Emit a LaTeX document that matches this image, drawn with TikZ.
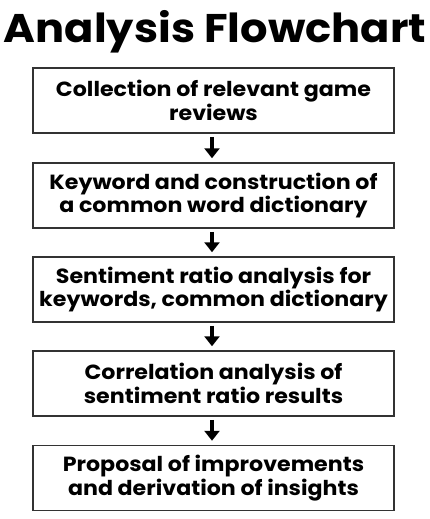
\documentclass[tikz,border=0pt]{standalone}
\usepackage{fontspec}
\setmainfont{Poppins}
\newfontfamily\boxfont[FakeStretch=1.08]{Poppins}
\newfontfamily\titlefont[FakeStretch=1.08]{Poppins}
\usetikzlibrary{arrows.meta}
\begin{document}
\begin{tikzpicture}[x=1pt,y=-1pt,
  stepbox/.style={draw=black!80,line width=1.5pt,minimum width=361pt,minimum height=65pt,
    inner sep=0pt,align=center,font=\boxfont\fontsize{20.5}{23.5}\selectfont\bfseries},
  flow/.style={-{Triangle[length=10pt,width=15pt]},line width=3.5pt}]
\useasboundingbox (0,0) rectangle (430,519);
\node[font=\titlefont\fontsize{40}{44}\selectfont\bfseries,anchor=base] (title) at (215,43) {Analysis Flowchart};
\node[stepbox] (s1) at (213.5,100.5) {Collection of relevant game\\reviews};
\node[stepbox] (s2) at (213.5,195.5) {Keyword and construction of\\a common word dictionary};
\node[stepbox] (s3) at (213.5,289.5) {Sentiment ratio analysis for\\keywords, common dictionary};
\node[stepbox] (s4) at (213.5,383.5) {Correlation analysis of\\sentiment ratio results};
\node[stepbox] (s5) at (213.5,478) {Proposal of improvements\\and derivation of insights};
\foreach \a/\b in {s1/s2,s2/s3,s3/s4,s4/s5}
  \draw[flow] ([xshift=-1.5pt,yshift=-3pt]\a.south) -- ([xshift=-1.5pt,yshift=4pt]\b.north);
\end{tikzpicture}
\end{document}
